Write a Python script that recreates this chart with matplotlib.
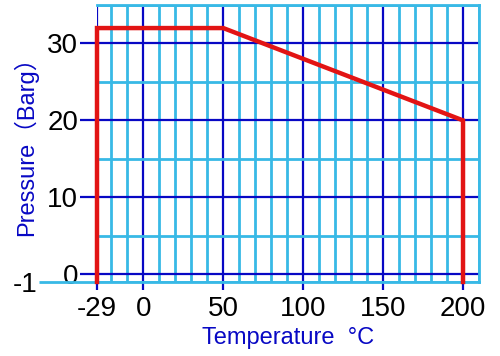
import matplotlib
matplotlib.use("Agg")
import matplotlib.pyplot as plt

# Data
temps = [-29, -29, 50, 200, 200]
pressures = [-1, 32, 32, 20, -1]

x_major = [-29, 0, 50, 100, 150, 200]
x_major_labels = ["-29", "0", "50", "100", "150", "200"]
x_minor = [-20, -10, 10, 20, 30, 40, 60, 70, 80, 90, 110, 120, 130, 140,
           160, 170, 180, 190, 210]
y_major = [0, 10, 20, 30]
y_major_labels = ["0", "10", "20", "30"]
y_minor = [-1, 5, 15, 25, 35]
y_minor_labels = ["-1", "", "", "", ""]

CYAN = "#38b9e6"
BLUE = "#0808c4"
RED = "#e21414"

plt.rcParams["font.family"] = ["Liberation Sans", "Noto Sans CJK SC", "DejaVu Sans"]

fig = plt.figure(figsize=(5.0, 3.56), dpi=100)
ax = fig.add_axes([0.194, 0.208, 0.764, 0.778])

ax.set_xlim(-29, 210)
ax.set_ylim(-1, 35)

ax.set_xticks(x_major)
ax.set_xticklabels(x_major_labels, fontsize=20)
ax.set_xticks(x_minor, minor=True)
ax.set_yticks(y_major)
ax.set_yticklabels(y_major_labels, fontsize=20)
ax.set_yticks(y_minor, minor=True)
ax.set_yticklabels(y_minor_labels, minor=True, fontsize=20)

ax.grid(which="minor", color=CYAN, linewidth=2.0, zorder=1)
ax.grid(which="major", color=BLUE, linewidth=1.6, zorder=2)
ax.set_axisbelow(True)

ax.tick_params(axis="x", which="major", length=6, width=1.6, color=BLUE, pad=4)
ax.tick_params(axis="x", which="minor", length=0)
ax.tick_params(axis="y", which="major", length=12.5, width=1.6, color=BLUE, pad=1)
ax.tick_params(axis="y", which="minor", length=42, width=2.0, color=CYAN, pad=1)
for i, t in enumerate(ax.yaxis.get_minor_ticks()):
    if i != 0:
        t.tick1line.set_visible(False)

for side in ["top", "right", "bottom"]:
    ax.spines[side].set_color(CYAN)
    ax.spines[side].set_linewidth(2.0)
ax.spines["left"].set_visible(False)

ax.plot(temps, pressures, color=RED, linewidth=3.2, clip_on=False, zorder=5,
        solid_joinstyle="miter")

ax.set_xlabel("Temperature  °C", color=BLUE, fontsize=17,
              family=["Liberation Sans", "DejaVu Sans"], labelpad=4)
ax.set_ylabel("Pressure（Barg）", color=BLUE, fontsize=17,
              family=["Liberation Sans", "Noto Sans CJK SC"])
ax.yaxis.set_label_coords(-0.155, 0.51)

fig.savefig("out.png", dpi=100)
